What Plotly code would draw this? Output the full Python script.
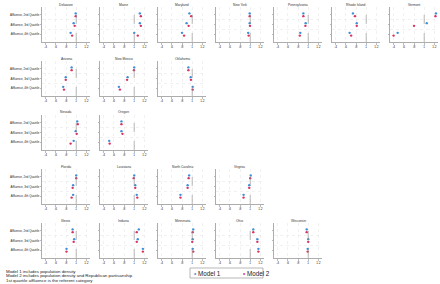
import plotly.graph_objects as go

# ---------------- data ----------------
states = ["Delaware", "Maine", "Maryland", "New York", "Pennsylvania", "Rhode Island", "Vermont",
          "Arizona", "New Mexico", "Oklahoma",
          "Nevada", "Oregon",
          "Florida", "Louisiana", "North Carolina", "Virginia",
          "Illinois", "Indiana", "Minnesota", "Ohio", "Wisconsin"]
row_sizes = [7, 3, 2, 4, 5]

categories = ["Affluence, 2nd Quartile", "Affluence, 3rd Quartile", "Affluence, 4th Quartile"]

# Model 1 (population density) coefficients: 2nd, 3rd, 4th quartile
m1_q2 = [0.99, 1.11, 0.945, 0.99, 0.905, 0.74, 1.23, 0.91, 1.00, 0.925, 1.02, 0.75, 1.00, 1.00, 0.94, 1.01, 0.93, 1.09, 1.02, 1.06, 0.97]
m1_q3 = [0.95, 1.11, 0.89, 0.99, 0.95, 0.815, 1.05, 0.795, 0.87, 0.97, 0.99, 0.75, 0.94, 1.02, 0.91, 0.98, 0.96, 1.07, 1.01, 1.14, 1.00]
m1_q4 = [0.89, 1.00, 0.80, 0.96, 0.845, 0.675, 0.48, 0.745, 0.70, 1.01, 0.95, 0.51, 0.94, 1.05, 0.77, 0.87, 0.81, 1.17, 1.01, 1.16, 0.99]
# Model 2 (population density + Republican partisanship)
m2_q2 = [0.99, 1.13, 0.98, 0.99, 0.905, 0.78, 1.22, 0.91, 0.995, 0.925, 1.03, 0.75, 1.00, 0.99, 0.93, 1.00, 0.93, 1.05, 1.01, 1.06, 0.97]
m2_q3 = [0.97, 1.13, 0.93, 0.995, 0.945, 0.815, 0.80, 0.795, 0.86, 0.975, 1.01, 0.77, 0.93, 1.02, 0.91, 0.98, 0.95, 1.05, 1.00, 1.14, 1.00]
m2_q4 = [0.92, 1.07, 0.84, 0.97, 0.835, 0.705, 0.40, 0.76, 0.72, 1.01, 0.89, 0.52, 0.91, 1.06, 0.77, 0.87, 0.81, 1.17, 1.02, 1.16, 0.99]

x_tickvals = [0.4, 0.6, 0.8, 1.0, 1.2]
x_ticktext = [".4", ".6", ".8", "1", "1.2"]

notes = ["Model 1 includes population density",
         "Model 2 includes population density and Republican partisanship",
         "1st quartile affluence is the referent category"]
series_names = ["Model 1", "Model 2"]
colors = ["#3f8fd6", "#d9335f"]

# ---------------- layout ----------------
W, H = 440, 284
col_x0, col_step, panel_w = 42, 58, 48
row_bottom0, row_step, panel_h = 42, 54, 35
offset = 0.14

fig = go.Figure()
layout = dict(width=W, height=H, margin=dict(l=0, r=0, t=0, b=0),
              paper_bgcolor="white", plot_bgcolor="white", showlegend=False,
              font=dict(family="Liberation Sans, Arial, sans-serif", size=3, color="#222"))
shapes = []
annotations = []

idx = 0
for r, n in enumerate(row_sizes):
    for c in range(n):
        i = idx + 1
        xs = "" if i == 1 else str(i)
        left = col_x0 + c * col_step
        bottom = row_bottom0 + r * row_step
        top = bottom - panel_h
        xdom = [left / W, (left + panel_w) / W]
        ydom = [1 - bottom / H, 1 - top / H]
        q1 = [m1_q2[idx], m1_q3[idx], m1_q4[idx]]
        q2 = [m2_q2[idx], m2_q3[idx], m2_q4[idx]]
        fig.add_trace(go.Scatter(x=q1, y=[k + 1 - offset for k in range(3)], mode="markers",
                                 marker=dict(color=colors[0], size=2.4), name=series_names[0],
                                 xaxis="x" + xs, yaxis="y" + xs, cliponaxis=False, hoverinfo="skip"))
        fig.add_trace(go.Scatter(x=q2, y=[k + 1 + offset for k in range(3)], mode="markers",
                                 marker=dict(color=colors[1], size=2.4), name=series_names[1],
                                 xaxis="x" + xs, yaxis="y" + xs, cliponaxis=False, hoverinfo="skip"))
        layout["xaxis" + xs] = dict(domain=xdom, anchor="y" + xs, range=[0.33, 1.27],
                                    tickvals=x_tickvals, ticktext=x_ticktext,
                                    showgrid=True, gridcolor="#e4e4e4", gridwidth=0.5, griddash="dot",
                                    zeroline=False, showline=True, linecolor="#777", linewidth=0.6,
                                    ticks="outside", ticklen=2, tickwidth=0.5, tickcolor="#777",
                                    tickfont=dict(size=3.2), fixedrange=True)
        layout["yaxis" + xs] = dict(domain=ydom, anchor="x" + xs, range=[3.8, 0.2],
                                    tickvals=[1, 2, 3], ticktext=categories,
                                    showticklabels=(c == 0), showgrid=False,
                                    minor=dict(tickvals=[1.5, 2.5], showgrid=True, gridcolor="#e4e4e4",
                                               gridwidth=0.5, griddash="dot", ticks=""),
                                    zeroline=False, showline=True, linecolor="#777", linewidth=0.6,
                                    ticks="outside", ticklen=1.5, tickwidth=0.5, tickcolor="#777",
                                    tickfont=dict(size=2.9), fixedrange=True)
        shapes.append(dict(type="line", xref="x" + xs, yref="y" + xs + " domain",
                           x0=1, x1=1, y0=0, y1=1, line=dict(color="#8a8a8a", width=0.6, dash="dash")))
        annotations.append(dict(text=states[idx], xref="paper", yref="paper",
                                x=(left + panel_w / 2) / W, y=1 - (top - 2.5) / H,
                                xanchor="center", yanchor="middle", showarrow=False,
                                font=dict(size=3.3, color="#333")))
        idx += 1

# footnotes
for k, t in enumerate(notes):
    annotations.append(dict(text=t, xref="paper", yref="paper", x=4 / W, y=1 - (271 + 4.6 * k) / H,
                            xanchor="left", yanchor="middle", showarrow=False,
                            font=dict(size=4.4, color="#222")))

# legend box (drawn)
shapes.append(dict(type="rect", xref="paper", yref="paper", x0=190 / W, x1=263 / W,
                   y0=1 - 278 / H, y1=1 - 268 / H, line=dict(color="#888", width=0.6),
                   fillcolor="white"))
for k, (nm, col) in enumerate(zip(series_names, colors)):
    annotations.append(dict(text=f"<span style='color:{col}'>\u2022</span> {nm}", xref="paper", yref="paper",
                            x=(192 + 49 * k) / W, y=1 - 273 / H, xanchor="left", yanchor="middle",
                            showarrow=False, font=dict(size=6.3, color="#222")))

layout["shapes"] = shapes
layout["annotations"] = annotations
fig.update_layout(**layout)
fig.write_html("out.html", config={"displayModeBar": False, "staticPlot": True},
               post_script="document.body.style.margin='0';document.body.style.padding='0';")
